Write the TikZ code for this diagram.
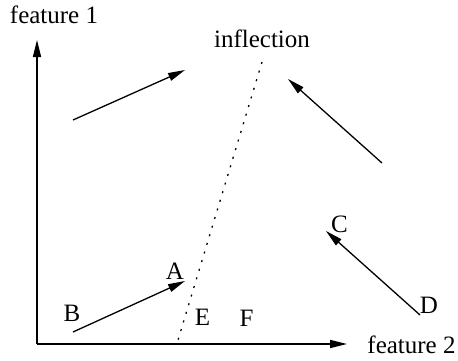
\documentclass[tikz,border=0pt]{standalone}
\usepackage{fontspec}
\setmainfont{Liberation Serif}
\usetikzlibrary{arrows.meta}
\tikzset{
  lbl/.style={inner sep=0pt, font=\fontsize{25bp}{30bp}\selectfont},
  axisline/.style={line width=1.5bp, -{Triangle[length=17bp,width=8bp]}},
  vec/.style={line width=1.3bp, -{Triangle[length=17bp,width=8bp]}},
  infl/.style={line width=1.3bp, dash pattern=on 2bp off 7bp}
}
\begin{document}
\begin{tikzpicture}[x=1bp,y=-1bp]
\useasboundingbox (0,0) rectangle (458,360);
% axes
\coordinate (O) at (37,344);
\coordinate (Ytip) at (37,40);
\coordinate (Xtip) at (347,344);
\draw[axisline] (O) -- (Ytip);
\draw[axisline] (O) -- (Xtip);
\node[lbl] (f1) at (54,15) {feature 1};
\node[lbl] (f2) at (411.5,345) {feature 2};
\node[lbl] (inf) at (262,39) {inflection};
% inflection line
\coordinate (it) at (262,62);
\coordinate (ib) at (178,340);
\draw[infl] (it) -- (ib);
% top vectors
\coordinate (t1a) at (73,120);
\coordinate (t1b) at (185,70);
\draw[vec] (t1a) -- (t1b);
\coordinate (t2a) at (382,163);
\coordinate (t2b) at (288,79);
\draw[vec] (t2a) -- (t2b);
% labels
\node[lbl] (A) at (175,271.5) {A};
\node[lbl] (B) at (72,313.5) {B};
\node[lbl] (C) at (339.5,224.5) {C};
\node[lbl] (D) at (429,305.5) {D};
\node[lbl] (E) at (202.5,317.5) {E};
\node[lbl] (F) at (246.5,318) {F};
% bottom vectors
\coordinate (ba) at (73,332);
\coordinate (bb) at (185,281);
\draw[vec] (ba) -- (bb);
\coordinate (da) at (420,315);
\coordinate (db) at (326,231);
\draw[vec] (da) -- (db);
\end{tikzpicture}
\end{document}
